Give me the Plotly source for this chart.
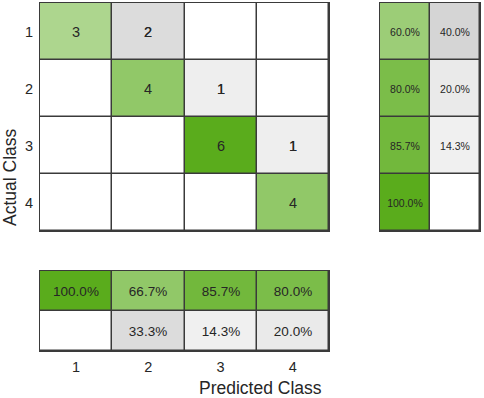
import plotly.graph_objects as go

classes = ["1", "2", "3", "4"]
counts = [[3, 2, 0, 0],
          [0, 4, 1, 0],
          [0, 0, 6, 1],
          [0, 0, 0, 4]]
row_correct = [60.0, 80.0, 85.7, 100.0]
row_wrong = [40.0, 20.0, 14.3, 0.0]
col_correct = [100.0, 66.7, 85.7, 80.0]
col_wrong = [0.0, 33.3, 14.3, 20.0]

W, H = 484, 398
GREEN = "rgb(90,172,28)"
GREY = "rgb(150,150,150)"
BORDER = "#3a3a3a"
TXT = "#262626"
FONT = "Liberation Sans, Arial, sans-serif"
green_cs = [[0, "white"], [1, GREEN]]
grey_cs = [[0, "white"], [1, GREY]]

def px_x(a, b):
    return [a / W, b / W]

def px_y(top, bottom):
    return [1 - bottom / H, 1 - top / H]

n = len(classes)
xs = list(range(1, n + 1))
mx = max(max(r) for r in counts)

diag_z = [[counts[i][j] / mx if i == j else None for j in range(n)] for i in range(n)]
off_z = [[counts[i][j] / mx if i != j else None for j in range(n)] for i in range(n)]
cnt_text = [[str(counts[i][j]) if counts[i][j] else "" for j in range(n)] for i in range(n)]

def pct(v):
    return f"{v:.1f}%" if v else ""

fig = go.Figure()
common = dict(showscale=False, xgap=1.5, ygap=1.5, zmin=0, zmax=1, hoverinfo="skip",
              texttemplate="%{text}")

# main confusion matrix
fig.add_trace(go.Heatmap(x=xs, y=xs, z=off_z, text=cnt_text, colorscale=grey_cs,
                         textfont=dict(size=14.5, color=TXT, family=FONT),
                         xaxis="x", yaxis="y", **common))
fig.add_trace(go.Heatmap(x=xs, y=xs, z=diag_z, text=cnt_text, colorscale=green_cs,
                         textfont=dict(size=14.5, color=TXT, family=FONT),
                         xaxis="x", yaxis="y", **common))

# row summary (right)
fig.add_trace(go.Heatmap(x=[1] * n, y=xs, z=[v / 100 for v in row_correct],
                         text=[pct(v) for v in row_correct], colorscale=green_cs,
                         textfont=dict(size=10.5, color=TXT, family=FONT),
                         xaxis="x2", yaxis="y2", **common))
fig.add_trace(go.Heatmap(x=[2] * n, y=xs, z=[v / 100 for v in row_wrong],
                         text=[pct(v) for v in row_wrong], colorscale=grey_cs,
                         textfont=dict(size=10.5, color=TXT, family=FONT),
                         xaxis="x2", yaxis="y2", **common))

# column summary (bottom)
fig.add_trace(go.Heatmap(x=xs, y=[1] * n, z=[v / 100 for v in col_correct],
                         text=[pct(v) for v in col_correct], colorscale=green_cs,
                         textfont=dict(size=13.5, color=TXT, family=FONT),
                         xaxis="x3", yaxis="y3", **common))
fig.add_trace(go.Heatmap(x=xs, y=[2] * n, z=[v / 100 for v in col_wrong],
                         text=[pct(v) for v in col_wrong], colorscale=grey_cs,
                         textfont=dict(size=13.5, color=TXT, family=FONT),
                         xaxis="x3", yaxis="y3", **common))

frame = dict(showline=True, mirror=True, linecolor=BORDER, linewidth=1,
             showgrid=False, zeroline=False, ticks="", fixedrange=True)
tickfont = dict(size=14.5, color=TXT, family=FONT)

fig.update_layout(
    width=W, height=H,
    margin=dict(l=0, r=0, t=0, b=0),
    paper_bgcolor="white",
    plot_bgcolor=BORDER,
    font=dict(family=FONT, color=TXT),
    showlegend=False,
    xaxis=dict(domain=px_x(40, 329), range=[0.5, n + 0.5], showticklabels=False,
               anchor="y", **frame),
    yaxis=dict(domain=px_y(3, 231), range=[n + 0.5, 0.5], tickvals=xs, ticktext=classes,
               tickfont=tickfont, ticklabelstandoff=3, anchor="x", **frame),
    xaxis2=dict(domain=px_x(380, 480), range=[0.5, 2.5], showticklabels=False,
                anchor="y2", **frame),
    yaxis2=dict(domain=px_y(3, 231), range=[n + 0.5, 0.5], showticklabels=False,
                anchor="x2", **frame),
    xaxis3=dict(domain=px_x(40, 329), range=[0.5, n + 0.5], tickvals=xs, ticktext=classes,
                tickfont=tickfont, ticklabelstandoff=3, anchor="y3", **frame),
    yaxis3=dict(domain=px_y(271, 351), range=[2.5, 0.5], showticklabels=False,
                anchor="x3", **frame),
    annotations=[
        dict(text="Predicted Class", x=260 / W, y=1 - 388 / H, xref="paper", yref="paper",
             showarrow=False, xanchor="center", yanchor="middle",
             font=dict(size=17.5, color=TXT, family=FONT)),
        dict(text="Actual Class", x=10 / W, y=1 - 177 / H, xref="paper", yref="paper",
             showarrow=False, xanchor="center", yanchor="middle", textangle=-90,
             font=dict(size=17.5, color=TXT, family=FONT)),
    ],
)

fig.write_html("out.html", config={"displayModeBar": False, "staticPlot": True})
with open("out.html", encoding="utf-8") as f:
    html = f.read()
html = html.replace("<body>", '<body style="margin:0;padding:0;overflow:hidden">', 1)
with open("out.html", "w", encoding="utf-8") as f:
    f.write(html)
